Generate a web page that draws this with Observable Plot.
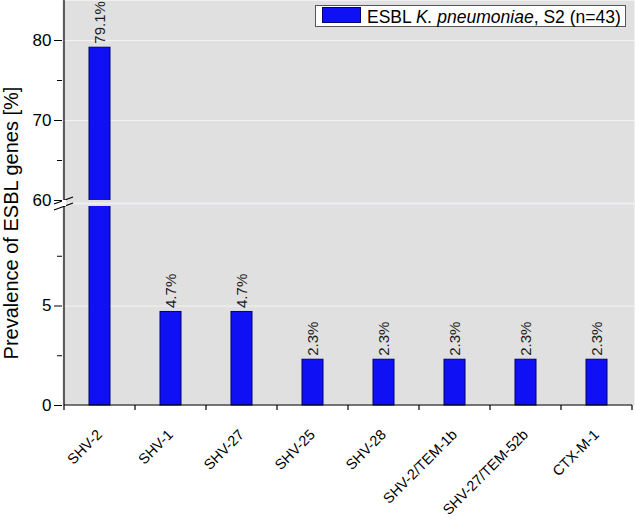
<!DOCTYPE html>
<html><head><meta charset="utf-8">
<script src="https://cdn.jsdelivr.net/npm/d3@7"></script>
<script src="https://cdn.jsdelivr.net/npm/@observablehq/plot@0.6"></script>
<style>body{margin:0;background:#fff;font-family:"Liberation Sans",Arial,sans-serif}</style>
</head><body><div id="chart"></div>
<script>
const genes = ["SHV-2","SHV-1","SHV-27","SHV-25","SHV-28","SHV-2/TEM-1b","SHV-27/TEM-52b","CTX-M-1"];
const prevalence = [79.1, 4.7, 4.7, 2.3, 2.3, 2.3, 2.3, 2.3];
const valueLabels = ["79.1%","4.7%","4.7%","2.3%","2.3%","2.3%","2.3%","2.3%"];
const yTicks = [0, 5, 60, 70, 80];
const yMinorTicks = [2.5, 7.5, 65, 75];
const gridValues = [5, 70, 80];
const yDomain = [0, 10, 60, 85];
const yTitle = "Prevalence of ESBL genes [%]";
const legendParts = [["ESBL ", false], ["K. pneumoniae", true], [", S2 (n=43)", false]];

const data = genes.map((g, i) => ({gene: g, value: prevalence[i], label: valueLabels[i]}));

const bg = "#e0e0e0";
const barFill = "#1010f4";
const barStroke = "#00006a";

const chart = Plot.plot({
  width: 635, height: 521,
  marginLeft: 62, marginRight: 1, marginTop: 0, marginBottom: 116,
  style: {fontFamily: "'Liberation Sans', Arial, sans-serif", fontSize: "17px", background: "white", color: "black"},
  x: {type: "band", domain: genes, padding: 0, axis: null},
  y: {type: "linear", domain: yDomain, range: [405, 206, 200, 0]},
  marks: [
    Plot.frame({fill: bg, stroke: "none"}),
    Plot.ruleY(gridValues, {stroke: "#f3f3f3", strokeWidth: 1}),
    Plot.barY(data, {x: "gene", y: "value", fill: barFill, stroke: barStroke, strokeWidth: 1, insetLeft: 25, insetRight: 25}),
    Plot.rect([0], {y1: 10, y2: 60, fill: bg}),
    Plot.ruleY([35], {stroke: "#ededf3", strokeWidth: 2}),
    Plot.text(data, {x: "gene", y: "value", text: "label", rotate: -90, textAnchor: "start", dy: -4, fontSize: 15, fill: "#1a1a1a"}),
    Plot.axisY(yTicks, {tickSize: 8, tickPadding: 3, fontSize: 17, label: null, stroke: "black"}),
    Plot.axisY(yMinorTicks, {tickSize: 5, tickFormat: () => "", label: null, stroke: "black"}),
    Plot.text([yTitle], {frameAnchor: "left", textAnchor: "middle", dx: -51, dy: 20, rotate: -90, fontSize: 20, fill: "black"}),
    Plot.text(genes, {x: d => d, frameAnchor: "bottom", rotate: -45, textAnchor: "end", lineAnchor: "bottom", dx: 3, dy: 30, fontSize: 14.5, fill: "black"})
  ]
});
document.getElementById("chart").appendChild(chart);

const svg = d3.select(chart);
const xs = chart.scale("x");
const ys = chart.scale("y");
const left = xs.apply(genes[0]);
const right = xs.apply(genes[genes.length - 1]) + xs.bandwidth;
const yBottom = ys.apply(0);
const yTop = ys.apply(85);
const g = svg.append("g").attr("stroke", "black").attr("stroke-width", 1.2).attr("fill", "none");
g.append("line").attr("x1", left).attr("x2", left).attr("y1", yTop).attr("y2", yBottom);
g.append("line").attr("x1", left).attr("x2", right).attr("y1", yBottom).attr("y2", yBottom);
const bounds = genes.map(d => xs.apply(d)).concat([right]);
bounds.forEach(b => g.append("line").attr("x1", b).attr("x2", b).attr("y1", yBottom).attr("y2", yBottom + 5));
const yb = (ys.apply(10) + ys.apply(60)) / 2;
svg.append("rect").attr("x", left - 2).attr("y", yb - 3).attr("width", 4).attr("height", 6).attr("fill", "white");
g.append("line").attr("x1", left - 10).attr("y1", yb + 1).attr("x2", left + 9).attr("y2", yb - 6);
g.append("line").attr("x1", left - 10).attr("y1", yb + 7).attr("x2", left + 9).attr("y2", yb);

const lg = svg.append("g");
lg.append("rect").attr("x", 315.5).attr("y", 5.5).attr("width", 310).attr("height", 21).attr("fill", "white").attr("stroke", "#555");
lg.append("rect").attr("x", 322.5).attr("y", 7.5).attr("width", 38).attr("height", 15).attr("fill", barFill).attr("stroke", barStroke);
const t = lg.append("text").attr("x", 367).attr("y", 22.5).attr("font-size", 17.5).attr("fill", "black").attr("text-anchor", "start");
legendParts.forEach(([s, it]) => t.append("tspan").attr("font-style", it ? "italic" : "normal").text(s));
</script>
</body></html>
